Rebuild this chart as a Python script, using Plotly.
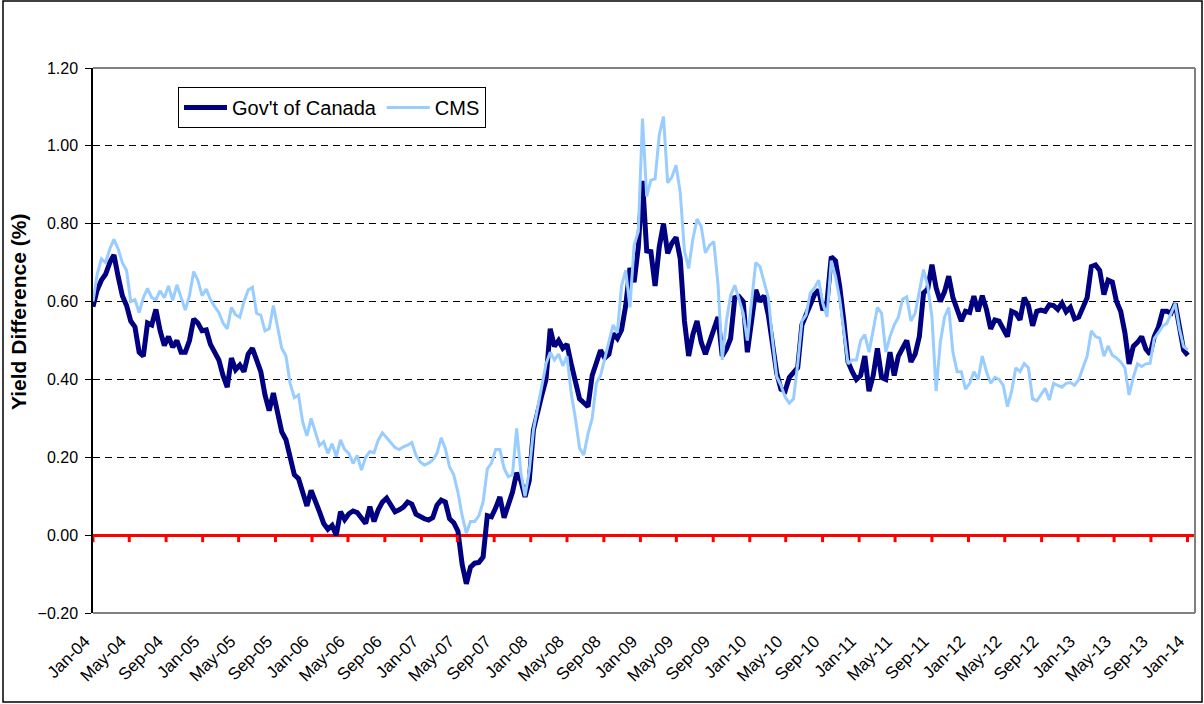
import pandas as pd
import plotly.graph_objects as go

# Bi-weekly observation dates (Jan 2004 - Jan 2014)
dates = pd.date_range("2004-01-01", periods=262, freq="14D")

govt = [
    0.587, 0.63, 0.655, 0.67, 0.70, 0.72, 0.664, 0.615, 0.59, 0.55,
    0.535, 0.47, 0.46, 0.545, 0.54, 0.58, 0.525, 0.487, 0.51, 0.483,
    0.50, 0.47, 0.47, 0.50, 0.555, 0.545, 0.525, 0.527, 0.49, 0.47,
    0.45, 0.41, 0.38, 0.455, 0.425, 0.437, 0.42, 0.465, 0.48, 0.45,
    0.42, 0.36, 0.32, 0.365, 0.31, 0.265, 0.245, 0.20, 0.155, 0.145,
    0.11, 0.075, 0.115, 0.09, 0.06, 0.03, 0.015, 0.025, 0.0, 0.06,
    0.04, 0.055, 0.062, 0.058, 0.045, 0.03, 0.073, 0.035, 0.065, 0.085,
    0.095, 0.078, 0.06, 0.065, 0.072, 0.085, 0.08, 0.054, 0.047, 0.042,
    0.039, 0.045, 0.077, 0.09, 0.085, 0.042, 0.032, 0.01, -0.075, -0.125,
    -0.082, -0.072, -0.07, -0.056, 0.05, 0.047, 0.07, 0.098, 0.045, 0.077,
    0.11, 0.16, 0.14, 0.098, 0.14, 0.27, 0.32, 0.36, 0.40, 0.53,
    0.485, 0.50, 0.48, 0.49, 0.44, 0.40, 0.35, 0.34, 0.33, 0.41,
    0.44, 0.475, 0.455, 0.465, 0.518, 0.505, 0.527, 0.59, 0.686, 0.65,
    0.74, 0.91, 0.73, 0.728, 0.64, 0.741, 0.80, 0.724, 0.75, 0.765,
    0.71, 0.55, 0.46, 0.515, 0.55, 0.495, 0.465, 0.495, 0.53, 0.56,
    0.46, 0.478, 0.505, 0.61, 0.613, 0.60, 0.47, 0.56, 0.63, 0.60,
    0.615, 0.565, 0.50, 0.416, 0.375, 0.37, 0.405, 0.42, 0.43, 0.54,
    0.565, 0.59, 0.618, 0.63, 0.578, 0.60, 0.715, 0.705, 0.64, 0.55,
    0.445, 0.42, 0.40, 0.41, 0.46, 0.37, 0.41, 0.48, 0.405, 0.40,
    0.47, 0.41, 0.46, 0.48, 0.50, 0.445, 0.465, 0.51, 0.622, 0.632,
    0.695, 0.635, 0.60, 0.625, 0.665, 0.61, 0.577, 0.55, 0.575, 0.572,
    0.614, 0.575, 0.615, 0.58, 0.53, 0.553, 0.55, 0.53, 0.51, 0.575,
    0.57, 0.553, 0.61, 0.59, 0.538, 0.575, 0.578, 0.575, 0.592, 0.59,
    0.58, 0.596, 0.574, 0.585, 0.556, 0.56, 0.585, 0.61, 0.69, 0.694,
    0.68, 0.618, 0.655, 0.65, 0.60, 0.575, 0.52, 0.44, 0.485, 0.495,
    0.51, 0.478, 0.465, 0.51, 0.535, 0.575, 0.575, 0.57, 0.595, 0.54,
    0.475, 0.462,
]

cms = [
    0.60, 0.67, 0.71, 0.70, 0.735, 0.76, 0.735, 0.70, 0.68, 0.60,
    0.605, 0.572, 0.61, 0.634, 0.61, 0.605, 0.628, 0.61, 0.64, 0.603,
    0.643, 0.61, 0.578, 0.615, 0.677, 0.655, 0.615, 0.632, 0.605, 0.587,
    0.572, 0.545, 0.53, 0.585, 0.566, 0.56, 0.60, 0.63, 0.637, 0.57,
    0.565, 0.525, 0.53, 0.59, 0.53, 0.48, 0.46, 0.39, 0.353, 0.36,
    0.29, 0.255, 0.30, 0.265, 0.23, 0.24, 0.21, 0.235, 0.202, 0.245,
    0.22, 0.21, 0.184, 0.205, 0.167, 0.20, 0.215, 0.212, 0.244, 0.263,
    0.25, 0.237, 0.225, 0.22, 0.227, 0.231, 0.238, 0.205, 0.188, 0.18,
    0.185, 0.193, 0.21, 0.25, 0.222, 0.175, 0.155, 0.11, 0.05, 0.005,
    0.035, 0.035, 0.05, 0.085, 0.17, 0.185, 0.22, 0.22, 0.172, 0.15,
    0.155, 0.274, 0.16, 0.10, 0.165, 0.27, 0.325, 0.38, 0.44, 0.47,
    0.45, 0.465, 0.435, 0.46, 0.365, 0.30, 0.223, 0.206, 0.26, 0.30,
    0.39, 0.41, 0.455, 0.50, 0.54, 0.52, 0.64, 0.68, 0.585, 0.745,
    0.78, 1.07, 0.87, 0.912, 0.915, 1.028, 1.075, 0.905, 0.92, 0.95,
    0.88, 0.73, 0.685, 0.76, 0.812, 0.793, 0.725, 0.745, 0.754, 0.645,
    0.45, 0.55, 0.615, 0.642, 0.603, 0.57, 0.50, 0.605, 0.70, 0.69,
    0.65, 0.61, 0.50, 0.407, 0.385, 0.355, 0.339, 0.35, 0.44, 0.55,
    0.566, 0.622, 0.635, 0.655, 0.595, 0.561, 0.705, 0.665, 0.607, 0.525,
    0.44, 0.45, 0.45, 0.50, 0.515, 0.47, 0.525, 0.585, 0.57, 0.47,
    0.51, 0.54, 0.56, 0.606, 0.612, 0.55, 0.57, 0.625, 0.682, 0.64,
    0.56, 0.37, 0.495, 0.56, 0.585, 0.47, 0.42, 0.42, 0.375, 0.39,
    0.42, 0.40, 0.46, 0.42, 0.39, 0.405, 0.40, 0.385, 0.33, 0.37,
    0.43, 0.42, 0.441, 0.43, 0.35, 0.345, 0.36, 0.377, 0.347, 0.39,
    0.385, 0.38, 0.39, 0.392, 0.385, 0.40, 0.43, 0.46, 0.525, 0.51,
    0.506, 0.46, 0.486, 0.462, 0.455, 0.445, 0.43, 0.36, 0.405, 0.44,
    0.433, 0.44, 0.441, 0.505, 0.52, 0.537, 0.544, 0.57, 0.595, 0.53,
    0.484, 0.476,
]

tick_dates = [
    "2004-01-01", "2004-05-01", "2004-09-01", "2005-01-01", "2005-05-01", "2005-09-01",
    "2006-01-01", "2006-05-01", "2006-09-01", "2007-01-01", "2007-05-01", "2007-09-01",
    "2008-01-01", "2008-05-01", "2008-09-01", "2009-01-01", "2009-05-01", "2009-09-01",
    "2010-01-01", "2010-05-01", "2010-09-01", "2011-01-01", "2011-05-01", "2011-09-01",
    "2012-01-01", "2012-05-01", "2012-09-01", "2013-01-01", "2013-05-01", "2013-09-01",
    "2014-01-01",
]
tick_labels = [
    "Jan-04", "May-04", "Sep-04", "Jan-05", "May-05", "Sep-05",
    "Jan-06", "May-06", "Sep-06", "Jan-07", "May-07", "Sep-07",
    "Jan-08", "May-08", "Sep-08", "Jan-09", "May-09", "Sep-09",
    "Jan-10", "May-10", "Sep-10", "Jan-11", "May-11", "Sep-11",
    "Jan-12", "May-12", "Sep-12", "Jan-13", "May-13", "Sep-13",
    "Jan-14",
]
y_ticks = [-0.2, 0.0, 0.2, 0.4, 0.6, 0.8, 1.0, 1.2]

FONT = "Liberation Sans, Arial, sans-serif"
W, H = 1204, 704
ML, MR, MT, MB = 93, 9, 68, 91
PW, PH = W - ML - MR, H - MT - MB

fig = go.Figure()
fig.add_trace(go.Scatter(x=dates, y=govt, mode="lines", name="Gov't of Canada",
                         line=dict(color="#000080", width=5)))
fig.add_trace(go.Scatter(x=dates, y=cms, mode="lines", name="CMS",
                         line=dict(color="#99CCFF", width=3)))

shapes = []
# red tick marks on the zero axis
tick_len = 7 / PH * 1.4
for d in tick_dates:
    shapes.append(dict(type="line", xref="x", yref="y", x0=d, x1=d, y0=0, y1=-tick_len,
                       line=dict(color="#FF0000", width=3), layer="above"))
# plot-area border (top, right, bottom)
for (x0, y0, x1, y1) in [(0, 1, 1, 1), (1, 0, 1, 1), (0, 0, 1, 0)]:
    shapes.append(dict(type="line", xref="paper", yref="paper", x0=x0, y0=y0, x1=x1, y1=y1,
                       line=dict(color="#808080", width=2)))
# outer chart frame
shapes.append(dict(type="rect", xref="paper", yref="paper",
                   x0=(3 - ML) / PW, x1=(1202 - ML) / PW,
                   y0=(H - MB - 702) / PH, y1=(H - MB - 1) / PH,
                   line=dict(color="black", width=1.5), fillcolor="rgba(0,0,0,0)"))

fig.update_layout(
    width=W, height=H,
    margin=dict(l=ML, r=MR, t=MT, b=MB, autoexpand=False),
    paper_bgcolor="white", plot_bgcolor="white",
    font=dict(family=FONT, size=16, color="black"),
    showlegend=True,
    legend=dict(orientation="h", x=(178 - ML) / PW, y=(H - MB - 87) / PH,
                xanchor="left", yanchor="top", itemwidth=43,
                bgcolor="white", bordercolor="black", borderwidth=1,
                font=dict(family=FONT, size=20, color="black"),
                tracegroupgap=0),
    xaxis=dict(type="date", range=["2004-01-01", "2014-01-26"],
               tickvals=tick_dates, ticktext=tick_labels, tickangle=-45,
               showgrid=False, showline=False, zeroline=False, ticks="",
               ticklabelstandoff=14, ticklabelshift=-8,
               tickfont=dict(family=FONT, size=17, color="black")),
    yaxis=dict(range=[-0.2, 1.2], tickvals=y_ticks, tickformat=".2f",
               showgrid=True, gridcolor="black", gridwidth=1, griddash="7px,5px",
               zeroline=True, zerolinecolor="#FF0000", zerolinewidth=3,
               showline=True, linecolor="black", linewidth=1.5,
               ticks="outside", ticklen=6, tickcolor="black", tickwidth=1,
               ticklabelstandoff=4,
               tickfont=dict(family=FONT, size=16, color="black")),
    shapes=shapes,
    annotations=[dict(text="<b>Yield Difference (%)</b>", xref="paper", yref="paper",
                      x=(18 - ML) / PW, y=(H - MB - 312) / PH, textangle=-90,
                      showarrow=False, xanchor="center", yanchor="middle",
                      font=dict(family=FONT, size=21, color="black"))],
)

fig.write_html("out.html", config={"displayModeBar": False},
               post_script="document.body.style.margin='0';")
